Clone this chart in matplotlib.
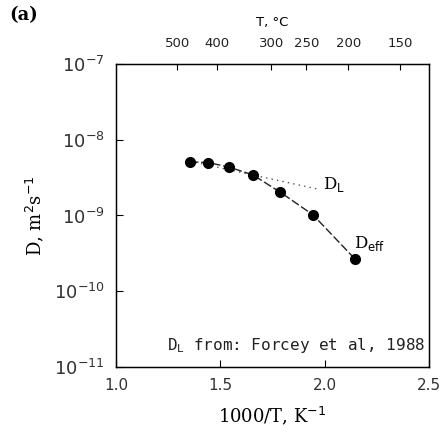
import numpy as np
import matplotlib
matplotlib.use("Agg")
import matplotlib.pyplot as plt

# Data
x_eff = [1.355, 1.441, 1.541, 1.656, 1.786, 1.944, 2.145]
d_eff = [5.1e-9, 5.0e-9, 4.36e-9, 3.43e-9, 2.04e-9, 1.02e-9, 2.67e-10]
x_L = [1.355, 1.96]
d_L = [5.2e-9, 2.25e-9]
top_T = [500, 400, 300, 250, 200, 150]
y_ticks = [1e-11, 1e-10, 1e-9, 1e-8, 1e-7]
y_labels = ['$10^{-11}$', '$10^{-10}$', '$10^{-9}$', '$10^{-8}$', '$10^{-7}$']
x_ticks = [1.0, 1.5, 2.0, 2.5]
x_labels = ['1.0', '1.5', '2.0', '2.5']

fig = plt.figure(figsize=(4.44, 4.32), dpi=100)
ax = fig.add_axes([0.2613, 0.1505, 0.7049, 0.7014])
ax.set_yscale('log')
ax.set_xlim(1.0, 2.5)
ax.set_ylim(1e-11, 1e-7)

ax.plot(x_L, d_L, color='#555555', lw=1.0, ls=(0, (1, 3)))
ax.plot(x_eff, d_eff, color='#222222', lw=1.0, ls=(0, (6, 2)), marker='o',
        ms=7, mfc='black', mec='black')

ax.set_yticks(y_ticks)
ax.set_yticklabels(y_labels, fontsize=13, color='#333333')
ax.yaxis.set_minor_locator(matplotlib.ticker.NullLocator())
ax.set_xticks(x_ticks)
ax.set_xticklabels(x_labels, fontsize=11, color='#333333')
ax.tick_params(direction='in', length=5, width=0.8, pad=8)
for s in ax.spines.values():
    s.set_linewidth(1.0)

ax.set_xlabel('1000/T, K$^{-1}$', family='DejaVu Serif', fontsize=13, labelpad=8)
ax.set_ylabel('D, m$^{2}$s$^{-1}$', family='DejaVu Serif', fontsize=13, labelpad=6)

sec = ax.twiny()
sec.set_xlim(ax.get_xlim())
sec.set_xticks([1000.0 / (t + 273.15) for t in top_T])
sec.set_xticklabels([str(t) for t in top_T], fontsize=9.5, color='#222222')
sec.tick_params(direction='in', length=4, width=0.8, pad=10)
sec.set_xlabel('T, °C', fontsize=9.5, labelpad=8)

ax.text(1.99, 2.6e-9, r'D$_{\rm L}$', family='DejaVu Serif', fontsize=12, ha='left', va='center')
ax.text(2.14, 4.3e-10, r'D$_{\rm eff}$', family='DejaVu Serif', fontsize=12, ha='left', va='center')
ax.text(2.48, 1.9e-11, r'D$_{\rm L}$ from: Forcey et al, 1988', family='DejaVu Sans Mono',
        fontsize=11.5, ha='right', va='center', color='#222222')

fig.text(0.02, 0.965, '(a)', family='DejaVu Serif', fontweight='bold', fontsize=13, ha='left', va='center')

fig.savefig('out.png', dpi=100)
